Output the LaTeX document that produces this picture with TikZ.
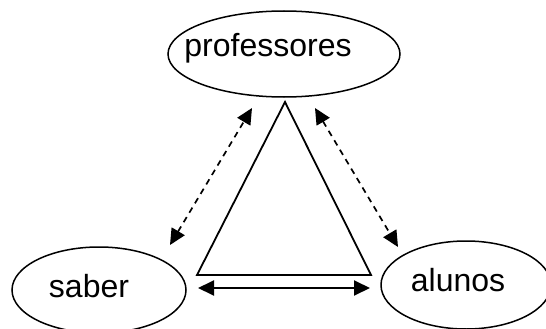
\documentclass[tikz,border=0pt]{standalone}
\usepackage{fontspec}
\setmainfont{Liberation Sans}
\usetikzlibrary{shapes.geometric,arrows.meta}
\begin{document}
\begin{tikzpicture}[x=1pt,y=-1pt,
  oval/.style={draw,ellipse,line width=1.5pt,inner sep=0pt},
  lbl/.style={inner sep=0pt,font=\fontsize{32}{38}\selectfont},
  dbl/.style={{Triangle[length=16pt,width=15pt]}-{Triangle[length=16pt,width=15pt]},line width=1.9pt},
  dsh/.style={dbl,line width=1.7pt,dash pattern=on 6pt off 5pt}]
\useasboundingbox (0,0) rectangle (546,329);
\node[oval,minimum width=232pt,minimum height=86pt] (prof) at (284,54) {};
\node[oval,minimum width=174pt,minimum height=86pt] (sab) at (99,290) {};
\node[oval,minimum width=170pt,minimum height=88pt] (alu) at (466,285) {};
\node[lbl] (tprof) at (268,48) {professores};
\node[lbl] (tsab) at (89,286) {saber};
\node[lbl] (talu) at (458,280) {alunos};
\coordinate (apex) at (285,102);
\coordinate (bl) at (197,275);
\coordinate (br) at (371,275);
\draw[line width=1.8pt] (apex) -- (bl) -- (br) -- cycle;
\coordinate (l1) at (252,108);
\coordinate (l2) at (170,245);
\coordinate (r1) at (315,108);
\coordinate (r2) at (398,247);
\coordinate (b1) at (198,288);
\coordinate (b2) at (370,288);
\draw[dsh] (l2) -- (l1);
\draw[dsh] (r1) -- (r2);
\draw[dbl] (b1) -- (b2);
\end{tikzpicture}
\end{document}
